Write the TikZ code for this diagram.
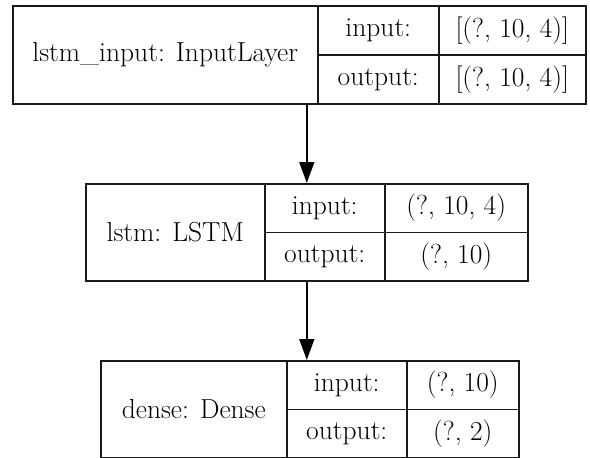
\documentclass[tikz,border=0pt]{standalone}
\usepackage{tikz}
\usetikzlibrary{calc}
\usetikzlibrary{arrows.meta}
\usetikzlibrary{positioning}

\tikzset{
  cell/.style={draw=black!90, line width=1.6pt, inner sep=0pt, anchor=north west,
               font=\rmfamily\fontsize{27.5}{30}\selectfont},
  flow/.style={line width=1.6pt, -{Triangle[length=21pt, width=15pt]}},
}

\begin{document}
\begin{tikzpicture}[x=1pt, y=-1pt]
    \useasboundingbox (0,0) rectangle (590,458);

    % lstm_input
    \node[cell, minimum width=305, minimum height=98]   (inlayer)    at ( 12,   5) {lstm\_input: InputLayer};
    \node[cell, minimum width=121, minimum height=49]   (inlayerin)  at (317,   5) {input:};
    \node[cell, minimum width=121, minimum height=49]   (inlayerout) at (317,  54) {output:};
    \node[cell, minimum width=147, minimum height=49]   (inlayerinv) at (438,   5) {[(?, 10, 4)]};
    \node[cell, minimum width=147, minimum height=49]   (inlayeroutv) at (438, 54) {[(?, 10, 4)]};

    % lstm
    \node[cell, minimum width=179, minimum height=97]   (lstm)       at ( 85, 183) {lstm: LSTM};
    \node[cell, minimum width=120, minimum height=48.5] (lstmin)     at (264, 183) {input:};
    \node[cell, minimum width=120, minimum height=48.5] (lstmout)    at (264, 231.5) {output:};
    \node[cell, minimum width=143, minimum height=48.5] (lstminv)    at (384, 183) {(?, 10, 4)};
    \node[cell, minimum width=143, minimum height=48.5] (lstmoutv)   at (384, 231.5) {(?, 10)};

    % dense
    \node[cell, minimum width=186, minimum height=97]   (dense)      at (100, 360) {dense: Dense};
    \node[cell, minimum width=120, minimum height=48.5] (densein)    at (286, 360) {input:};
    \node[cell, minimum width=120, minimum height=48.5] (denseout)   at (286, 408.5) {output:};
    \node[cell, minimum width=112, minimum height=48.5] (denseinv)   at (406, 360) {(?, 10)};
    \node[cell, minimum width=112, minimum height=48.5] (denseoutv)  at (406, 408.5) {(?, 2)};

    \coordinate (lstmtop) at ($(lstm.north west)!0.5!(lstminv.north east)$);
    \coordinate (lstmbot) at ($(lstm.south west)!0.5!(lstmoutv.south east)$);
    \draw[flow] (inlayer.south -| lstmtop) -- (lstmtop);
    \draw[flow] (lstmbot) -- (dense.north -| lstmbot);
\end{tikzpicture}
\end{document}
